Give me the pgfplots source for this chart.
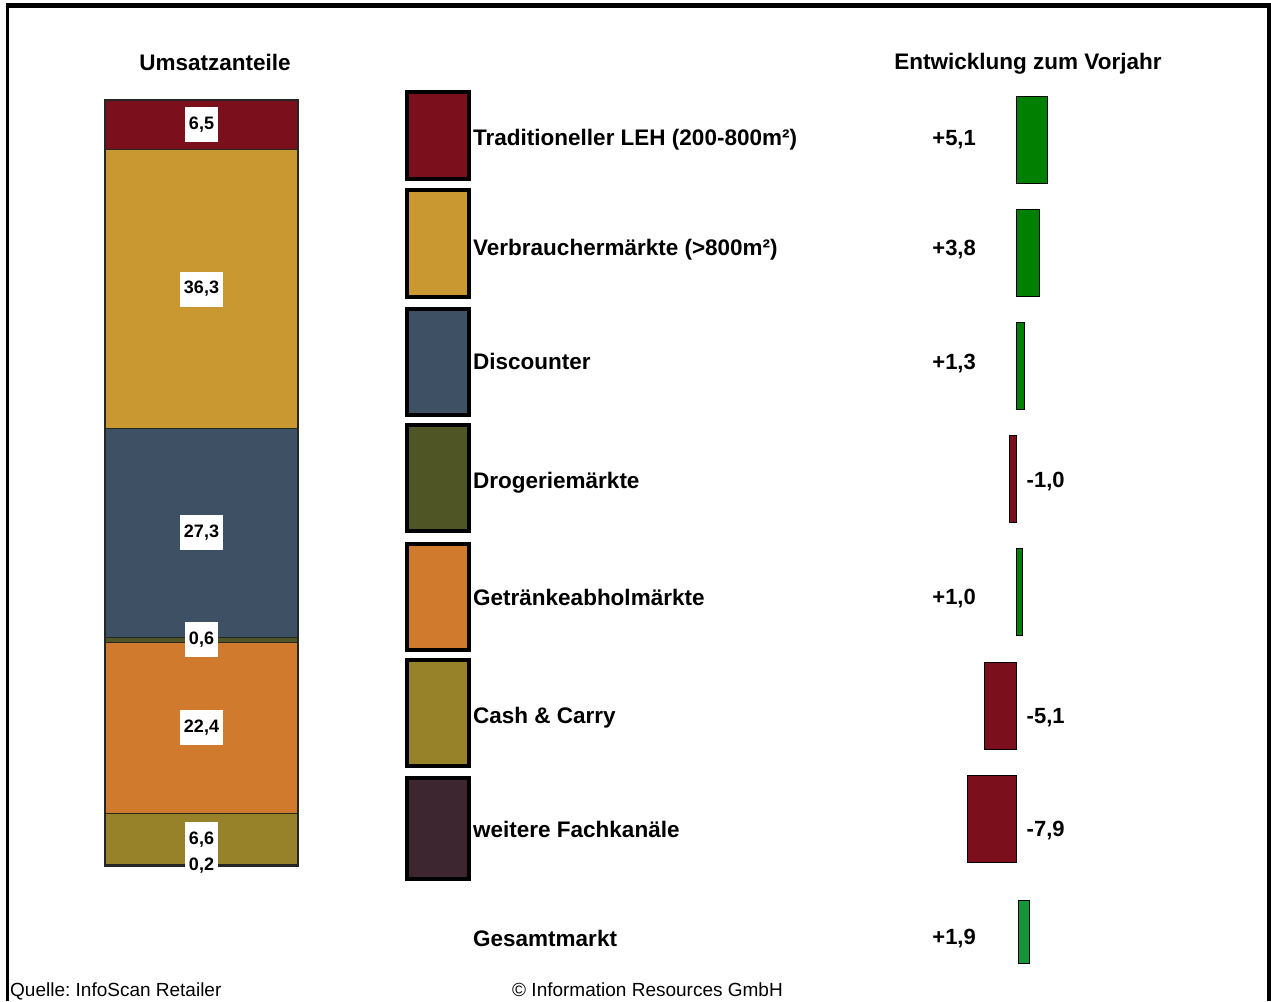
\documentclass[border=0pt]{standalone}
\usepackage{fontspec}
\setmainfont{Liberation Sans}
\usepackage{pgfplots}
\pgfplotsset{compat=1.18}
\frenchspacing

% segment / channel colours
\definecolor{cTrad}{HTML}{7B101C}
\definecolor{cVerb}{HTML}{C99830}
\definecolor{cDisc}{HTML}{3E5063}
\definecolor{cDrog}{HTML}{4F5525}
\definecolor{cGetr}{HTML}{D07A2E}
\definecolor{cCash}{HTML}{978229}
\definecolor{cWeit}{HTML}{3E2630}
\definecolor{cPlus}{HTML}{007F00}
\definecolor{cMinus}{HTML}{7B101C}
\definecolor{cGes}{HTML}{169438}

\newcommand{\bigbf}{\fontsize{22.5}{26}\selectfont\bfseries}

\begin{document}
\begin{tikzpicture}[x=1pt,y=1pt]
  \path[use as bounding box] (0,0) rectangle (1271,-1001);

  % frame
  \fill[black] (6,-3.3) rectangle (1271,-8);
  \fill[black] (6,-3.3) rectangle (9.3,-1001);
  \fill[black] (1266.5,-3.3) rectangle (1271,-1001);

  % titles
  \node[anchor=base, inner sep=0, font=\bigbf] at (215,-70) {Umsatzanteile};
  \node[anchor=base, inner sep=0, font=\bigbf] at (1028,-69.5) {Entwicklung zum Vorjahr};

  % stacked share bar
  \begin{axis}[
      at={(105pt,-866pt)}, anchor=south west,
      scale only axis, width=193pt, height=766pt,
      xmin=0, xmax=1, ymin=0, ymax=99.9,
      hide axis, clip=false,
      ybar stacked, bar width=193pt,
    ]
    \addplot[fill=cWeit, draw=black!85, line width=1.2pt] coordinates {(0.5,0.2)};
    \addplot[fill=cCash, draw=black!85, line width=1.2pt] coordinates {(0.5,6.6)};
    \addplot[fill=cGetr, draw=black!85, line width=1.2pt] coordinates {(0.5,22.4)};
    \addplot[fill=cDrog, draw=black!85, line width=1.2pt] coordinates {(0.5,0.6)};
    \addplot[fill=cDisc, draw=black!85, line width=1.2pt] coordinates {(0.5,27.3)};
    \addplot[fill=cVerb, draw=black!85, line width=1.2pt] coordinates {(0.5,36.3)};
    \addplot[fill=cTrad, draw=black!85, line width=1.2pt] coordinates {(0.5,6.5)};
  \end{axis}

  % value boxes on the stacked bar
  \begin{axis}[
      at={(105pt,-866pt)}, anchor=south west,
      scale only axis, width=193pt, height=766pt,
      xmin=0, xmax=1, ymin=0, ymax=99.9,
      hide axis, clip=false,
    ]
    \addplot[draw=none, mark=none, nodes near coords, point meta=explicit symbolic,
      every node near coord/.append style={anchor=center, fill=white, text=black,
        inner xsep=4pt, inner ysep=0pt, minimum height=35pt,
        font=\fontsize{18}{20}\selectfont\bfseries}]
      table[meta=l] {
        x   y     l
        0.5 96.65 6,5
        0.5 75.25 36,3
        0.5 43.45 27,3
        0.5 29.5  0,6
        0.5 18.0  22,4
        0.5 3.5   6,6
        0.5 0.1   0,2
      };
  \end{axis}

  % legend keys
  \foreach \c/\ya/\yb in {cTrad/92/179, cVerb/190/297, cDisc/308.5/415,
                          cDrog/425/531, cGetr/544/649.5, cCash/660/766, cWeit/778/878.5}
    \draw[line width=4pt, fill=\c] (407,-\ya) rectangle (469,-\yb);

  \foreach \t/\b in {Traditioneller LEH (200-800m²)/145, Verbrauchermärkte (>800m²)/255,
                     Discounter/369, Drogeriemärkte/488, Getränkeabholmärkte/605,
                     Cash \& Carry/723, weitere Fachkanäle/837, Gesamtmarkt/946}
    \node[anchor=base west, inner sep=0, font=\bigbf] at (473,-\b) {\t};

  % change vs previous year
  \begin{axis}[
      at={(954.5pt,-988.5pt)}, anchor=south west,
      scale only axis, width=110.7pt, height=905.6pt,
      xmin=-10, xmax=8, ymin=-0.5, ymax=7.5, y dir=reverse,
      hide axis, clip=false,
    ]
    \addplot[xbar, bar shift=0pt, bar width=87pt, fill=cPlus, draw=black, line width=1pt]
      coordinates {(5.1,0) (3.8,1) (1.3,2) (1.0,4)};
    \addplot[xbar, bar shift=0pt, bar width=87pt, fill=cMinus, draw=black, line width=1pt]
      coordinates {(-1.0,3) (-5.1,5) (-7.9,6)};
    \addplot[xbar, bar shift=0pt, bar width=63pt, fill=cGes, draw=black, line width=1pt, xshift=2pt]
      coordinates {(1.9,7)};

    \addplot[draw=none, mark=none, nodes near coords, point meta=explicit symbolic,
      every node near coord/.append style={anchor=base east, inner sep=0pt, text=black,
        font=\fontsize{22}{26}\selectfont\bfseries}]
      table[meta=l] {
        x     y      l
        -6.5  0.0486 +5,1
        -6.5  1.0203 +3,8
        -6.5  2.0273 +1,3
        -6.5  4.1113 +1,0
        -6.5  7.1140 +1,9
      };
    \addplot[draw=none, mark=none, nodes near coords, point meta=explicit symbolic,
      every node near coord/.append style={anchor=base west, inner sep=0pt, text=black,
        font=\fontsize{22}{26}\selectfont\bfseries}]
      table[meta=l] {
        x     y      l
        1.71  3.0777 -1,0
        1.71  5.1564 -5,1
        1.71  6.1554 -7,9
      };
  \end{axis}

  % footer
  \node[anchor=base west, inner sep=0, font=\fontsize{19}{22}\selectfont] at (10,-996.5) {Quelle: InfoScan Retailer};
  \node[anchor=base west, inner sep=0, font=\fontsize{19}{22}\selectfont] at (512,-996.5) {© Information Resources GmbH};
\end{tikzpicture}
\end{document}
